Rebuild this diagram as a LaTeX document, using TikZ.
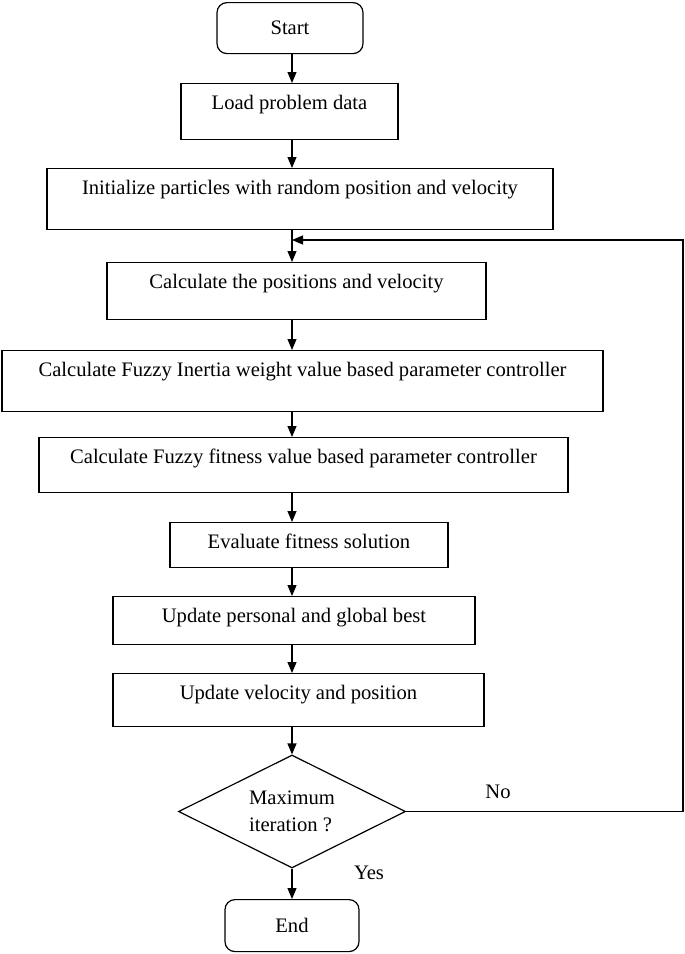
\documentclass[tikz,border=0pt]{standalone}
\usepackage{fontspec}
\setmainfont{Liberation Serif}
\usetikzlibrary{
		calc,
		positioning,
		arrows.meta,
		shapes.geometric
	}
\tikzset{
		>={Triangle[length=11pt,width=9pt]}
	}

\begin{document}
\begin{tikzpicture}[x=1pt, y=-1pt,
	txt/.style={font=\fontsize{20.6pt}{27pt}\selectfont},
	box/.style={txt, draw, line width=1.2pt, anchor=north, inner sep=0pt, text height=26pt},
	term/.style={txt, draw, line width=1.2pt, anchor=north, inner sep=0pt, rounded corners=10pt},
	decision/.style={txt, draw, diamond, aspect=2, line width=1.2pt, inner sep=0pt, align=left}]
	\useasboundingbox (0,0) rectangle (685,954);
	\coordinate (spine) at (292,0);
	\node[term, minimum width=146pt, minimum height=51pt] (start) at (290,2) {Start};
	\node[box, minimum width=217pt, text depth=30pt] (load) at (289.5,83) {Load problem data};
	\node[box, minimum width=506pt, text depth=35pt] (init) at (300,168) {Initialize particles with random position and velocity};
	\node[box, minimum width=379pt, text depth=31pt] (calc) at (296.5,262) {Calculate the positions and velocity};
	\node[box, minimum width=601pt, text depth=35pt] (inertia) at (302.5,350) {Calculate Fuzzy Inertia weight value based parameter controller};
	\node[box, minimum width=529pt, text depth=29pt] (fitness) at (303.5,437) {Calculate Fuzzy fitness value based parameter controller};
	\node[box, minimum width=278pt, text depth=19pt] (eval) at (309,522) {Evaluate fitness solution};
	\node[box, minimum width=362pt, text depth=22pt] (best) at (294,596) {Update personal and global best};
	\node[box, minimum width=371pt, text depth=27pt] (update) at (298.5,673) {Update velocity and position};
	\node[decision, minimum width=227pt, minimum height=113pt] (maxit) at (292,811.5) {Maximum\\iteration ?};
	\node[term, minimum width=134pt, minimum height=52pt] (end) at (292,899) {End};
	\node[txt] (no) at (498,792) {No};
	\node[txt] (yes) at (369,873) {Yes};
	% main column
	\draw[->, line width=1.2pt] (start.south -| spine) -- (load.north -| spine);
	\draw[->, line width=1.2pt] (load.south -| spine) -- (init.north -| spine);
	\draw[->, line width=1.2pt] (init.south -| spine) -- (calc.north -| spine);
	\draw[->, line width=1.2pt] (calc.south -| spine) -- (inertia.north -| spine);
	\draw[->, line width=1.2pt] (inertia.south -| spine) -- (fitness.north -| spine);
	\draw[->, line width=1.2pt] (fitness.south -| spine) -- (eval.north -| spine);
	\draw[->, line width=1.2pt] (eval.south -| spine) -- (best.north -| spine);
	\draw[->, line width=1.2pt] (best.south -| spine) -- (update.north -| spine);
	\draw[->, line width=1.2pt] (update.south -| spine) -- (maxit.north);
	\draw[->, line width=1.2pt] (maxit.south) -- (end.north);
	% loop back
	\coordinate (corner) at (683,240);
	\draw[->, line width=1.2pt] (maxit.east) -| (corner) -- (corner -| spine);
\end{tikzpicture}
\end{document}
